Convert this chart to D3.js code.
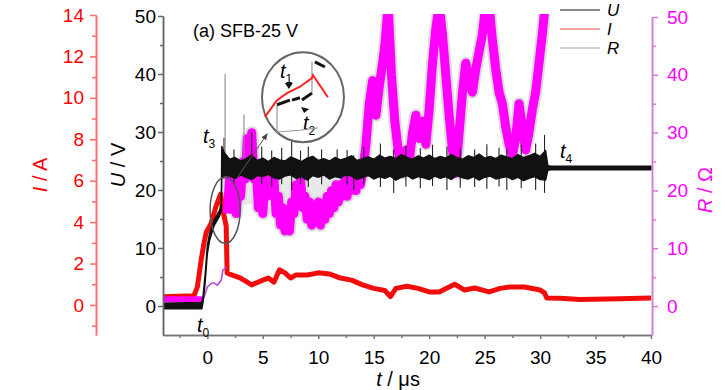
<!DOCTYPE html>
<html><head><meta charset="utf-8">
<script src="https://cdn.jsdelivr.net/npm/d3@7"></script>
<style>body{margin:0;background:#fff} svg{display:block} text{font-family:"Liberation Sans",Arial,sans-serif}</style>
</head><body><svg id="c" width="728" height="390"></svg>
<script>
// ---------- data ----------
const xTicks = [0,5,10,15,20,25,30,35,40];
const uTicks = [0,10,20,30,40,50];
const iTicks = [0,2,4,6,8,10,12,14];
const rTicks = [0,10,20,30,40,50];

// current I (A)
const tI = [-4,-1.2,-0.9,-0.55,-0.3,-0.1,0.35,0.8,1.2,1.35,1.7,1.78,2.2,3,4,5,5.5,6,6.5,7,7.5,8,9,10,11,12,13,14,15,16,16.5,17,18,19,20,20.9,22.3,23.2,24.1,25.4,26.4,27.3,28.6,30,30.4,30.6,31.8,33.6,37.2,40];
const vI = [0.4,0.45,0.87,2.2,3.0,3.5,3.95,4.8,5.35,4.7,3.8,1.55,1.45,1.3,0.97,1.2,1.3,1.1,1.7,1.55,1.3,1.45,1.45,1.55,1.5,1.3,1.2,0.97,0.8,0.7,0.4,0.8,0.9,0.8,0.63,0.63,1.0,0.72,0.82,0.63,0.8,0.87,0.87,0.72,0.58,0.34,0.32,0.26,0.3,0.34];

// voltage U (V): noisy band low / high
const tU = [-4,-0.5,-0.4,-0.2,0,0.2,0.6,1.1,1.25,1.3,1.5,
  2,2.5,3,3.5,4,4.5,5,5.5,6,6.5,7,7.5,8,8.5,9,9.5,10,10.5,11,11.5,12,12.5,13,13.5,14,14.5,15,15.5,16,16.5,17,17.5,18,18.5,19,19.5,20,20.5,21,21.5,22,22.5,23,23.5,24,24.5,25,25.5,26,26.5,27,27.5,28,28.5,29,29.5,30,30.5,
  30.7,31,35,40];
const uLo = [-0.5,-0.5,0.5,4,9,11.3,13.8,15.5,16.3,22,22.5,
  22.4,22.0,22.6,22.2,21.8,22.5,22.3,22.7,22.1,21.9,
  22.4,22.6,22.0,22.3,21.7,22.5,22.2,22.6,21.9,22.3,
  22.1,22.6,22.4,21.8,22.2,22.5,21.9,22.3,22.0,22.4,
  21.7,22.2,22.5,21.9,22.3,22.1,21.8,22.4,22.0,22.3,
  21.8,22.5,22.1,21.9,22.3,21.7,22.2,22.4,21.9,22.1,
  22.3,21.8,22.2,21.6,22.0,22.3,21.8,21.7,
  23.4,23.5,23.5,23.5];
const uHi = [0.5,0.6,1.5,5.5,10.5,12.5,14.8,16.5,17.5,27.5,26.5,
  25.3,25.6,25.0,25.4,26.0,25.1,25.5,24.9,25.6,25.2,
  25.0,25.7,25.3,24.9,25.5,25.8,25.1,25.4,25.0,25.6,
  25.2,25.5,25.9,25.1,25.4,25.7,25.3,26.0,25.5,25.8,
  25.4,26.1,25.6,25.3,25.9,25.5,26.0,25.4,25.8,25.5,
  26.1,25.6,25.3,25.9,25.6,26.2,25.5,25.8,25.4,26.0,
  25.7,25.4,26.1,25.6,25.9,26.3,25.8,26.8,
  24.2,24.1,24.1,24.1];
// isolated spikes on the U trace: [t, low, high]
const uSpikes = [[1.5,22,29],[1.6,23,40],[2.4,21,27],[3.3,23,33],[4.0,23,30],[4.9,21,27.5],[5.8,20.5,26.8],[6.7,21,27.3],[7.6,20,28.5],[8.4,21,26.8],[9.1,20.5,27.5],[10.3,21,27],[11.7,23,27],[12.6,20.8,26.9],[13.2,20,26],[14.1,21,27.4],[15.6,20.5,28],[16.8,19.5,27],[17.9,20.6,27.6],[19.2,20.3,27.2],[20.3,20.7,27.8],[21.6,20,27.5],[22.8,20.4,27.1],[24.1,20.5,27],[25.2,20.2,27.9],[26.3,20.6,27.3],[27,20,27],[28.3,20.3,27.8],[29.6,20,28],[30.4,19.5,29.5]];

// resistance R (Ohm)
const tRpre = [-4,-0.4];
const vRpre = [1.2,1.2];
const tRrise = [-0.4,-0.3,0,0.4,0.6,0.9,1.25,1.4,1.7];
const vRrise = [1.2,1.5,3.3,4,4,3.6,4.5,6.2,6.7];
const tR = [1.8,2.0,2.2,2.4,2.6,2.8,3.0,3.2,3.4,3.6,3.8,4.0,4.2,4.4,4.6,4.8,5.0,5.2,5.4,5.6,5.8,6.0,6.2,6.4,6.6,6.8,7.0,7.2,7.4,7.6,7.8,8.0,8.2,8.4,8.6,8.8,9.0,9.2,9.4,9.6,9.8,10.0,10.2,10.4,10.6,10.8,11.0,11.2,11.4,11.6,11.8,12.0,12.2,12.4,12.6,12.8,13.0,13.2,13.4,13.6,13.8,14.0,14.3,14.6,14.9,15.2,15.5,15.8,16.0,16.3,16.6,16.9,17.2,17.6,17.9,18.2,18.5,18.8,19.1,19.4,19.7,20.0,20.3,20.6,20.9,21.2,21.5,21.8,22.1,22.4,22.7,23.0,23.3,23.6,23.9,24.2,24.5,24.8,25.1,25.4,25.7,26.0,26.3,26.6,26.9,27.2,27.5,27.8,28.1,28.4,28.7,29.0,29.3,29.6,29.9,30.2,30.5,30.6];
const vR = [16,22,18,23,16,21,19,25,22,29,26,30,22,24,17,20,16,22,19,24,20,22,16,19,14,17,13,16,13,18,16,21,19,22,17,19,15,18,14,17,15,18,14,17,15,19,16,20,17,21,18,21,19,22,19,22,20,23,20,24,21,23,28,35,39,33,38,42,45,52,40,32,27,23,27,25,30,33,29,32,28,34,42,48,52,47,40,33,27,23,30,37,42,39,37,41,44,47,52,52,46,41,37,35,31,28,26,29,35,31,27,30,34,37,42,47,53,60];
// faint gray raw-trace haze behind U in the early part
const tG = [2.5,4,6,8,10,12,13.5];
const gLo = [17,18,17,16,16,18,20];
const gHi = [23,23,23,23,23,23,23];

// ---------- layout ----------
const svg = d3.select("#c");
const FONT = '"Liberation Sans",Arial,sans-serif';
const x = d3.scaleLinear().domain([-4,40]).range([163,651]);
const yU = d3.scaleLinear().domain([-5,50]).range([335,16]);
const yR = d3.scaleLinear().domain([-5,50]).range([335,17]);
const yI = d3.scaleLinear().domain([-1.45,14]).range([335,15]);

const defs = svg.append("defs");
defs.append("clipPath").attr("id","plot").append("rect")
  .attr("x",163).attr("y",14).attr("width",489).attr("height",321);
defs.append("marker").attr("id","ah").attr("viewBox","0 0 10 10").attr("refX",9).attr("refY",5)
  .attr("markerWidth",7).attr("markerHeight",7).attr("orient","auto")
  .append("path").attr("d","M0,1 L10,5 L0,9 Z").attr("fill","#444");

const plot = svg.append("g").attr("clip-path","url(#plot)");
const zip = (a,b)=>a.map((t,i)=>[t,b[i]]);

// gray haze
plot.append("path").attr("d",d3.area().x(d=>x(d[0])).y0(d=>yR(d[1])).y1(d=>yR(d[2])).curve(d3.curveBasis)(tG.map((t,i)=>[t,gLo[i],gHi[i]])))
  .attr("fill","#e9e9e9");
// R gray fringe
const lineR = d3.line().x(d=>x(d[0])).y(d=>yR(d[1]));
plot.append("path").attr("d",lineR(zip(tR,vR))).attr("fill","none")
  .attr("stroke","#dcdcdc").attr("stroke-width",13).attr("stroke-linejoin","round");
// current (drawn under R)
const lineI = d3.line().x(d=>x(d[0])).y(d=>yI(d[1]));
plot.append("path").attr("d",lineI(zip(tI,vI))).attr("fill","none")
  .attr("stroke","#f20d0d").attr("stroke-width",5).attr("stroke-linejoin","round");
plot.append("path").attr("d",lineR(zip(tR,vR))).attr("fill","none")
  .attr("stroke","#ff00ff").attr("stroke-width",9).attr("stroke-linejoin","round");
plot.append("path").attr("d",lineR(zip(tRpre,vRpre))).attr("fill","none")
  .attr("stroke","#ff00ff").attr("stroke-width",6);
plot.append("path").attr("d",lineR(zip(tRrise,vRrise))).attr("fill","none")
  .attr("stroke","#b94ad8").attr("stroke-width",1.6);

// U spikes + band
plot.selectAll("line.sp").data(uSpikes).join("line").attr("class","sp")
  .attr("x1",d=>x(d[0])).attr("x2",d=>x(d[0])).attr("y1",d=>yU(d[1])).attr("y2",d=>yU(d[2]))
  .attr("stroke",d=>d[2]>30?"#8a8a8a":"#222").attr("stroke-width",1.1);
const areaU = d3.area().x(d=>x(d[0])).y0(d=>yU(d[1])).y1(d=>yU(d[2]));
plot.append("path").attr("d",areaU(tU.map((t,i)=>[t,uLo[i],uHi[i]])))
  .attr("fill","#111").attr("stroke","#111").attr("stroke-width",1.4).attr("stroke-linejoin","round");

// ---------- axes ----------
function styleAxis(g, txt, line){
  g.attr("font-family",FONT).attr("font-size",19);
  g.select(".domain").attr("stroke",line).attr("stroke-width",1.5);
  g.selectAll(".tick line").attr("stroke",line).attr("stroke-width",1.5);
  g.selectAll(".tick text").attr("fill",txt);
}
const minors = (a,b,s)=>d3.range(a,b+1e-9,s);
// x
let g = svg.append("g").attr("transform","translate(0,335)")
  .call(d3.axisBottom(x).tickValues(xTicks).tickSize(4).tickSizeOuter(0).tickPadding(12));
styleAxis(g,"#000","#777");
g = svg.append("g").attr("transform","translate(0,335)")
  .call(d3.axisBottom(x).tickValues(minors(-2.5,37.5,5)).tickSize(3).tickSizeOuter(0).tickFormat(""));
styleAxis(g,"#000","#777");
// U
g = svg.append("g").attr("transform","translate(163,0)")
  .call(d3.axisLeft(yU).tickValues(uTicks).tickSize(5).tickSizeOuter(0).tickPadding(2));
styleAxis(g,"#000","#666");
g = svg.append("g").attr("transform","translate(163,0)")
  .call(d3.axisLeft(yU).tickValues(minors(5,45,10)).tickSize(3).tickSizeOuter(0).tickFormat(""));
styleAxis(g,"#000","#666");
// I
g = svg.append("g").attr("transform","translate(96,0)")
  .call(d3.axisLeft(yI).tickValues(iTicks).tickSize(6).tickSizeOuter(0).tickPadding(6));
styleAxis(g,"#f00","#ff6a6a");
g = svg.append("g").attr("transform","translate(96,0)")
  .call(d3.axisLeft(yI).tickValues(minors(-1,13,2)).tickSize(4).tickSizeOuter(0).tickFormat(""));
styleAxis(g,"#f00","#ff6a6a");
// R
g = svg.append("g").attr("transform","translate(652,0)")
  .call(d3.axisRight(yR).tickValues(rTicks).tickSize(6).tickSizeOuter(0).tickPadding(9));
styleAxis(g,"#f0f","#d27ad6");
g = svg.append("g").attr("transform","translate(652,0)")
  .call(d3.axisRight(yR).tickValues(minors(5,45,10)).tickSize(4).tickSizeOuter(0).tickFormat(""));
styleAxis(g,"#f0f","#d27ad6");

// axis titles
function title(xp,yp,rot,color,ital,rest){
  const t = svg.append("text").attr("transform",`translate(${xp},${yp}) rotate(${rot})`)
    .attr("text-anchor","middle").attr("font-size",20).attr("fill",color).attr("font-family",FONT);
  t.append("tspan").attr("font-style","italic").text(ital);
  t.append("tspan").text(rest);
}
title(47,175,-90,"#f00","I"," / A");
title(125,165,-90,"#000","U"," / V");
title(712,190,-90,"#f0f","R"," / Ω");
title(398,386,0,"#000","t"," / μs");

svg.append("text").attr("x",193).attr("y",37).attr("font-size",18).attr("font-family",FONT)
  .text("(a) SFB-25 V");

// legend
const leg = [["U","#8a8a8a"],["I","#f5a3a3"],["R","#d0d0d0"]];
leg.forEach((d,i)=>{
  const yy = 10 + i*19;
  svg.append("line").attr("x1",560).attr("x2",600).attr("y1",yy).attr("y2",yy)
    .attr("stroke",d[1]).attr("stroke-width",2);
  svg.append("text").attr("x",607).attr("y",yy+6).attr("font-size",17).attr("font-style","italic")
    .attr("font-family",FONT).text(d[0]);
});

// ---------- annotations ----------
function tlabel(t,u,sub){
  const e = svg.append("text").attr("x",x(t)).attr("y",yU(u)).attr("font-family",FONT).attr("font-size",20);
  e.append("tspan").attr("font-style","italic").text("t");
  e.append("tspan").attr("font-size",12).attr("dy",5).text(sub);
}
tlabel(-0.94,-4.5,"0");
tlabel(-0.4,28.1,"3");
tlabel(31.8,25.5,"4");
tlabel(6.55,39.3,"1");
tlabel(8.62,30.3,"2");

// ellipses
svg.append("ellipse").attr("cx",x(1.6)).attr("cy",yU(16.5)).attr("rx",15).attr("ry",33)
  .attr("fill","none").attr("stroke","#555").attr("stroke-width",1.5);
svg.append("ellipse").attr("cx",x(8.62)).attr("cy",yU(36)).attr("rx",41).attr("ry",45)
  .attr("fill","none").attr("stroke","#666").attr("stroke-width",2);
svg.append("line").attr("x1",x(2.69)).attr("y1",yU(22.1)).attr("x2",x(5.4)).attr("y2",yU(29.7))
  .attr("stroke","#555").attr("stroke-width",1).attr("marker-end","url(#ah)");

// inset (magnified view)
const insetRed = [[5.19,32.6],[6.28,35.5],[7.18,36.7],[8.35,37.8],[9.43,39.3],[9.52,39.8],[10.87,36.0]];
const insetBlack = [[[6.28,34.7],[7.45,35.5]],[[7.63,35.5],[8.35,35.9]],[[8.53,35.5],[9.43,36.7]],[[9.7,42.1],[10.6,41.2]]];
const insetGray = [[[6.28,34.7],[6.28,29.8]],[[9.43,36.7],[9.43,42.1]],[[6.28,30],[8.35,30.3],[9.97,30.7]]];
const lU = d3.line().x(d=>x(d[0])).y(d=>yU(d[1]));
insetGray.forEach(s=>svg.append("path").attr("d",lU(s)).attr("fill","none").attr("stroke","#999").attr("stroke-width",1.2));
svg.append("path").attr("d",lU(insetRed)).attr("fill","none").attr("stroke","#f22").attr("stroke-width",2);
insetBlack.forEach(s=>svg.append("path").attr("d",lU(s)).attr("fill","none").attr("stroke","#111").attr("stroke-width",3));
svg.append("path").attr("d",`M${x(7.35)-4},${yU(37.4)-6} L${x(7.35)+4},${yU(37.4)-6} L${x(7.35)},${yU(37.4)} Z`).attr("fill","#111");
svg.append("path").attr("d",`M${x(8.45)},${yU(34.3)} L${x(8.45)+8},${yU(34.3)+2} L${x(8.45)+3},${yU(34.3)+6} Z`).attr("fill","#111");
</script></body></html>
